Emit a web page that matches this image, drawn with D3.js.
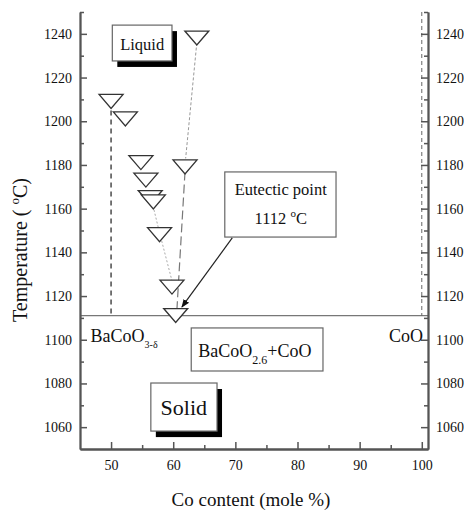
<!DOCTYPE html>
<html>
<head>
<meta charset="utf-8">
<script src="https://cdn.jsdelivr.net/npm/d3@7"></script>
<style>
  body { margin: 0; background: #fff; }
  text { font-family: "Liberation Serif", "Times New Roman", serif; fill: #111; }
</style>
</head>
<body>
<svg id="chart" width="464" height="515"></svg>
<script>
// measured liquidus points (Co mole %, temperature in C)
const coContent = [50, 52.3, 54.8, 55.6, 56.3, 56.8, 57.8, 59.8, 60.4, 61.9, 63.8];
const temperature = [1210, 1202, 1182, 1174, 1166, 1164, 1149, 1125, 1112, 1180, 1239];

const xTicks = [50, 60, 70, 80, 90, 100];
const xMinor = [55, 65, 75, 85, 95];
const yTicks = [1060, 1080, 1100, 1120, 1140, 1160, 1180, 1200, 1220, 1240];
const yMinor = [1070, 1090, 1110, 1130, 1150, 1170, 1190, 1210, 1230, 1250];

const eutecticLine = 1111;
const baCoOLine = [[50, 1209], [50, 1111]];
const coOLine = [[100, 1250], [100, 1111]];
const rightDotted = [[63.8, 1236], [62, 1183]];
const rightDashed = [[61.9, 1177], [60.6, 1114]];
const leftDotted = [[56.6, 1163], [57.8, 1149], [59.8, 1127]];

const x = d3.scaleLinear().domain([45, 101]).range([80, 428]);
const y = d3.scaleLinear().domain([1050, 1250]).range([449, 12]);

const svg = d3.select('#chart');
const line = d3.line().x(d => x(d[0])).y(d => y(d[1]));

// guide lines
svg.append('line')
  .attr('x1', x(45)).attr('x2', x(101))
  .attr('y1', y(eutecticLine)).attr('y2', y(eutecticLine))
  .attr('stroke', '#777').attr('stroke-width', 1.2);

svg.append('path').datum(baCoOLine).attr('d', line)
  .attr('fill', 'none').attr('stroke', '#555').attr('stroke-width', 1.6)
  .attr('stroke-dasharray', '5,4');
svg.append('path').datum(coOLine).attr('d', line)
  .attr('fill', 'none').attr('stroke', '#666').attr('stroke-width', 1)
  .attr('stroke-dasharray', '4,3');
svg.append('path').datum(rightDotted).attr('d', line)
  .attr('fill', 'none').attr('stroke', '#999').attr('stroke-width', 1)
  .attr('stroke-dasharray', '3,2');
svg.append('path').datum(rightDashed).attr('d', line)
  .attr('fill', 'none').attr('stroke', '#777').attr('stroke-width', 1.2)
  .attr('stroke-dasharray', '9,4');
svg.append('path').datum(leftDotted).attr('d', line)
  .attr('fill', 'none').attr('stroke', '#aaa').attr('stroke-width', 1)
  .attr('stroke-dasharray', '2,2');

// axes, ticks pointing inward
const axisColor = '#555';
const fmt = d3.format('d');
function styleAxis(g) {
  g.attr('font-family', null);
  g.select('.domain').attr('stroke', axisColor).attr('stroke-width', 1.8);
  g.selectAll('.tick line').attr('stroke', axisColor).attr('stroke-width', 1.5);
  g.selectAll('.tick text').attr('font-size', 14).attr('fill', '#111');
}

svg.append('g').attr('transform', `translate(0,${y(1050)})`)
  .call(d3.axisBottom(x).tickValues(xTicks).tickFormat(fmt).tickSize(-7).tickSizeOuter(0).tickPadding(11))
  .call(styleAxis);
svg.append('g').attr('transform', `translate(0,${y(1050)})`)
  .call(d3.axisBottom(x).tickValues(xMinor).tickSize(-4).tickSizeOuter(0).tickFormat(''))
  .call(styleAxis);

svg.append('g').attr('transform', `translate(${x(45)},0)`)
  .call(d3.axisLeft(y).tickValues(yTicks).tickFormat(fmt).tickSize(-7).tickSizeOuter(0).tickPadding(8))
  .call(styleAxis);
svg.append('g').attr('transform', `translate(${x(45)},0)`)
  .call(d3.axisLeft(y).tickValues(yMinor).tickSize(-4).tickSizeOuter(0).tickFormat(''))
  .call(styleAxis);

svg.append('g').attr('transform', `translate(${x(101)},0)`)
  .call(d3.axisRight(y).tickValues(yTicks).tickFormat(fmt).tickSize(-7).tickSizeOuter(0).tickPadding(8))
  .call(styleAxis);
svg.append('g').attr('transform', `translate(${x(101)},0)`)
  .call(d3.axisRight(y).tickValues(yMinor).tickSize(-4).tickSizeOuter(0).tickFormat(''))
  .call(styleAxis);

// down triangles
const pts = coContent.map((c, i) => [c, temperature[i]]);
const tri = 'M-12,-5 L12,-5 L0,9 Z';
svg.append('g').selectAll('path')
  .data(pts).join('path')
  .attr('transform', d => `translate(${x(d[0])},${y(d[1])})`)
  .attr('d', tri)
  .attr('fill', '#fff').attr('stroke', '#333').attr('stroke-width', 1.3);

// annotation boxes
function box(x0, y0, x1, y1, shadow) {
  if (shadow) {
    svg.append('rect').attr('x', x0 + 5).attr('y', y0 + 6)
      .attr('width', x1 - x0).attr('height', y1 - y0).attr('fill', '#000');
  }
  svg.append('rect').attr('x', x0).attr('y', y0)
    .attr('width', x1 - x0).attr('height', y1 - y0)
    .attr('fill', '#fff').attr('stroke', '#666').attr('stroke-width', 1.2);
}

box(x(50.2), y(1244), x(59.8), y(1227.6), true);
svg.append('text').attr('x', x(55)).attr('y', y(1232.5))
  .attr('text-anchor', 'middle').attr('font-size', 16.5).text('Liquid');

box(x(56.4), y(1080.2), x(67.05), y(1058.2), true);
svg.append('text').attr('x', x(61.7)).attr('y', y(1065.6))
  .attr('text-anchor', 'middle').attr('font-size', 22).text('Solid');

box(x(62.9), y(1105.4), x(84.1), y(1085.7), false);
const bc = svg.append('text').attr('x', x(62.9) + 7).attr('y', y(1092)).attr('font-size', 18);
bc.append('tspan').text('BaCoO');
bc.append('tspan').attr('dy', 7).attr('font-size', 12).text('2.6');
bc.append('tspan').attr('dy', -7).text('+CoO');

box(x(68.3), y(1176.8), x(86.2), y(1147), false);
svg.append('text').attr('x', x(77.3)).attr('y', y(1166.2))
  .attr('text-anchor', 'middle').attr('font-size', 16.5).text('Eutectic point');
const eu = svg.append('text').attr('x', x(77.3)).attr('y', y(1153))
  .attr('text-anchor', 'middle').attr('font-size', 16.5);
eu.append('tspan').text('1112 ');
eu.append('tspan').attr('dy', -7).attr('font-size', 11).text('o');
eu.append('tspan').attr('dy', 7).text('C');

// arrow to eutectic point
svg.append('defs').append('marker').attr('id', 'arr')
  .attr('viewBox', '0 0 10 10').attr('refX', 9).attr('refY', 5)
  .attr('markerWidth', 7).attr('markerHeight', 7).attr('orient', 'auto')
  .append('path').attr('d', 'M0,1 L10,5 L0,9 Z').attr('fill', '#111');
svg.append('line')
  .attr('x1', x(69.5)).attr('y1', y(1146.6))
  .attr('x2', x(61.4)).attr('y2', y(1115))
  .attr('stroke', '#222').attr('stroke-width', 1.2).attr('marker-end', 'url(#arr)');

// phase labels
const ba = svg.append('text').attr('x', x(46.7)).attr('y', y(1098.8)).attr('font-size', 18);
ba.append('tspan').text('BaCoO');
ba.append('tspan').attr('dy', 6).attr('font-size', 10).text('3-δ');
svg.append('text').attr('x', x(100.2)).attr('y', y(1098.8))
  .attr('text-anchor', 'end').attr('font-size', 18).text('CoO');

// axis titles
svg.append('text').attr('x', 251).attr('y', 506)
  .attr('text-anchor', 'middle').attr('font-size', 19).text('Co content (mole %)');
const yt = svg.append('text').attr('transform', 'translate(27,250) rotate(-90)')
  .attr('text-anchor', 'middle').attr('font-size', 20);
yt.append('tspan').text('Temperature (  ');
yt.append('tspan').attr('dy', -8).attr('font-size', 13).text('o');
yt.append('tspan').attr('dy', 8).text('C)');
</script>
</body>
</html>
